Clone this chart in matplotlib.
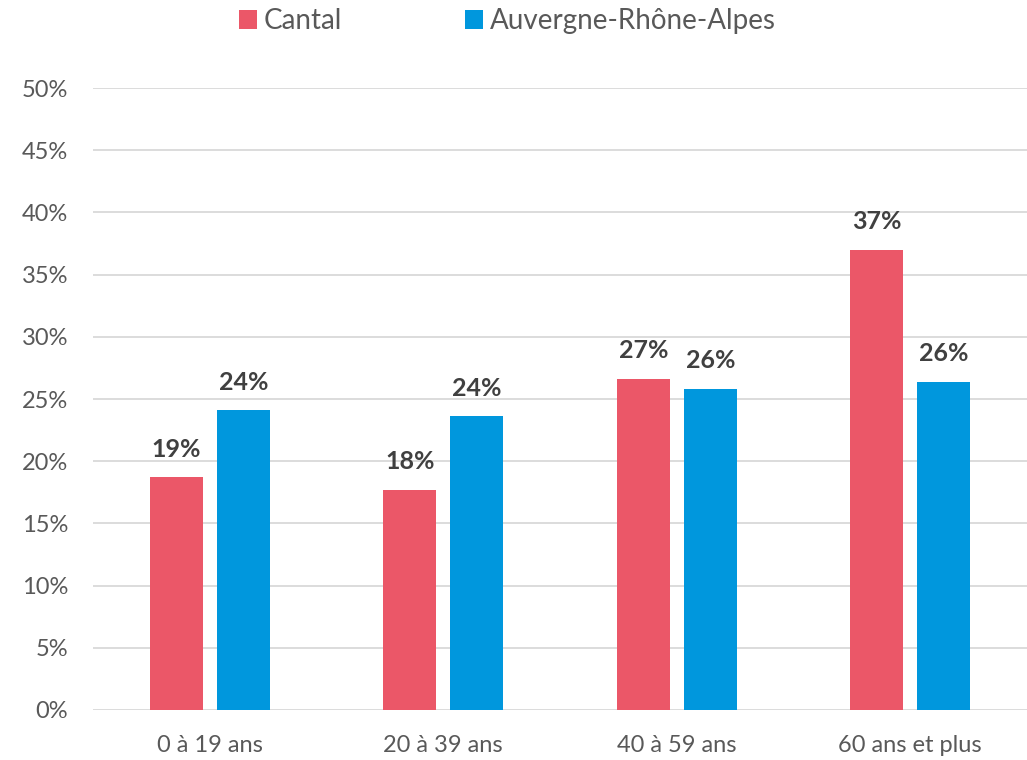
import numpy as np
import matplotlib.pyplot as plt
from matplotlib.ticker import PercentFormatter

categories = ['0 à 19 ans', '20 à 39 ans', '40 à 59 ans', '60 ans et plus']
cantal = [18.7, 17.7, 26.6, 37.0]
aura = [24.1, 23.6, 25.8, 26.4]
cantal_labels = ['19%', '18%', '27%', '37%']
aura_labels = ['24%', '24%', '26%', '26%']

plt.rcParams['font.family'] = ['Lato', 'DejaVu Sans']

fig = plt.figure(figsize=(10.27, 7.6), dpi=100)
ax = fig.add_axes([0.0906, 0.0658, 0.9094, 0.8184])

x = np.arange(len(categories))
w = 0.227
off = 0.1435
b1 = ax.bar(x - off, cantal, w, color='#EB5768', label='Cantal', zorder=3)
b2 = ax.bar(x + off, aura, w, color='#0097DD', label='Auvergne-Rhône-Alpes', zorder=3)

for bars, labs in [(b1, cantal_labels), (b2, aura_labels)]:
    for bar, lab in zip(bars, labs):
        ax.annotate(lab, (bar.get_x() + bar.get_width() / 2, bar.get_height()),
                    xytext=(0, 12), textcoords='offset points', ha='center', va='bottom',
                    fontsize=18, fontweight='bold', color='#404040')

ax.set_xlim(-0.5, 3.5)
ax.set_ylim(0, 50)
ax.set_yticks(np.arange(0, 51, 5))
ax.yaxis.set_major_formatter(PercentFormatter(decimals=0))
ax.set_xticks(x)
ax.set_xticklabels(categories)
ax.tick_params(axis='both', length=0, labelsize=17, labelcolor='#595959')
ax.tick_params(axis='x', pad=18)
ax.tick_params(axis='y', pad=18)
ax.grid(axis='y', color='#D9D9D9', linewidth=1.3, zorder=0)
for s in ax.spines.values():
    s.set_visible(False)

fig.legend(loc='center', bbox_to_anchor=(0.494, 0.972), ncol=2, frameon=False,
           fontsize=20, labelcolor='#595959', handlelength=0.65, handleheight=0.65,
           handletextpad=0.25, columnspacing=4.4)

fig.savefig('out.png', dpi=100)
